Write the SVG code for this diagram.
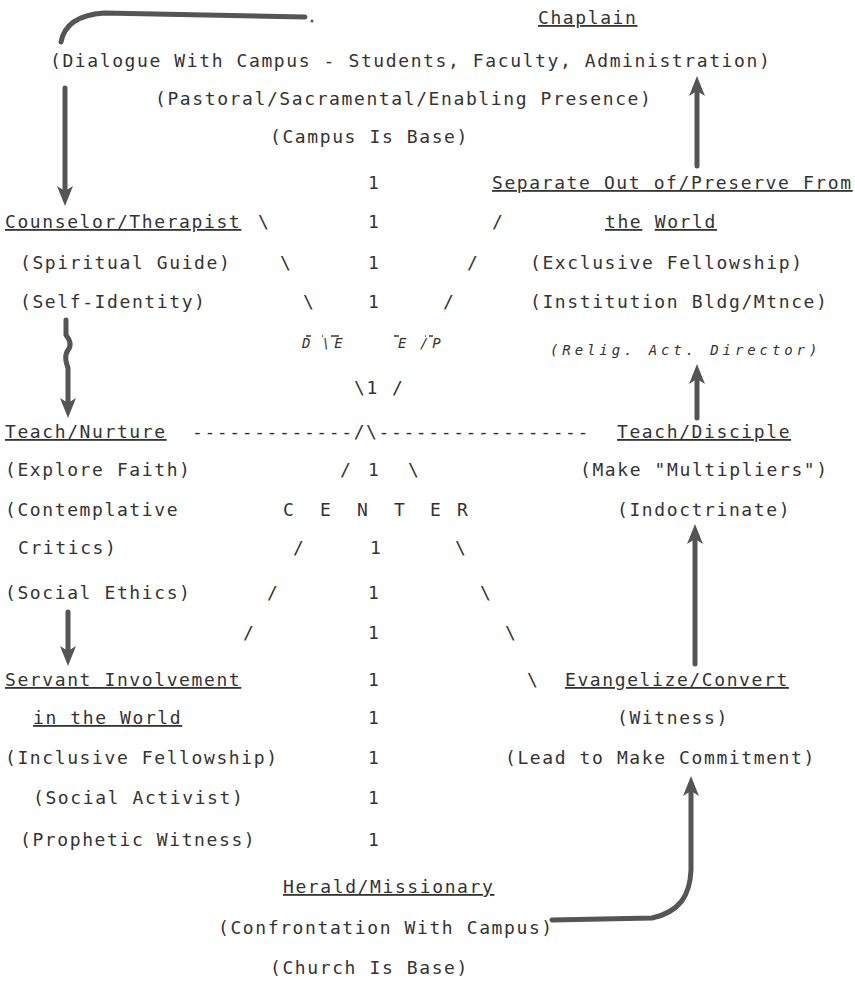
<svg xmlns="http://www.w3.org/2000/svg" width="855" height="982" viewBox="0 0 855 982">
<style>
.t{font-family:"DejaVu Sans Mono","Liberation Mono",monospace;font-size:18px;letter-spacing:1.6px;fill:#333}
.u{text-decoration:underline}
.i{font-style:italic;font-size:14px;letter-spacing:3.9px}
.c{stroke:#555;stroke-width:5;fill:none;stroke-linecap:round;stroke-linejoin:round}
.m{stroke:#444;stroke-width:1.6}
</style>
<defs>
<marker id="ah" markerUnits="userSpaceOnUse" markerWidth="20" markerHeight="22" viewBox="0 0 20 22" refX="10" refY="11" orient="auto">
<path d="M0,3 L20,11 L0,19 L5,11 Z" fill="#555"/>
</marker>
</defs>
<rect width="855" height="982" fill="#fff"/>

<g id="chaplain" class="t">
<text x="538" y="24" class="u">Chaplain</text>
<text x="50" y="67">(Dialogue With Campus - Students, Faculty, Administration)</text>
<text x="155" y="105">(Pastoral/Sacramental/Enabling Presence)</text>
<text x="270" y="143">(Campus Is Base)</text>
</g>

<g id="counselor" class="t">
<text x="5" y="228" class="u">Counselor/Therapist</text>
<text x="20" y="269">(Spiritual Guide)</text>
<text x="20" y="308">(Self-Identity)</text>
</g>

<g id="separate" class="t">
<text x="492" y="189" class="u">Separate Out of/Preserve From</text>
<text x="605" y="228"><tspan class="u">the</tspan>  <tspan class="u">World</tspan></text>
<text x="530" y="269">(Exclusive Fellowship)</text>
<text x="530" y="308">(Institution Bldg/Mtnce)</text>
<text x="550" y="355" class="i">(Relig. Act. Director)</text>
</g>

<g id="teach-nurture" class="t">
<text x="5" y="438" class="u">Teach/Nurture</text>
<text x="5" y="476">(Explore Faith)</text>
<text x="5" y="516">(Contemplative</text>
<text x="18" y="554">Critics)</text>
<text x="5" y="599">(Social Ethics)</text>
</g>

<g id="teach-disciple" class="t">
<text x="617" y="438" class="u">Teach/Disciple</text>
<text x="580" y="476">(Make "Multipliers")</text>
<text x="617" y="516">(Indoctrinate)</text>
</g>

<g id="servant" class="t">
<text x="5" y="686" class="u">Servant Involvement</text>
<text x="33" y="724" class="u">in the World</text>
<text x="5" y="764">(Inclusive Fellowship)</text>
<text x="33" y="804">(Social Activist)</text>
<text x="20" y="846">(Prophetic Witness)</text>
</g>

<g id="evangelize" class="t">
<text x="565" y="686" class="u">Evangelize/Convert</text>
<text x="617" y="724">(Witness)</text>
<text x="505" y="764">(Lead to Make Commitment)</text>
</g>

<g id="herald" class="t">
<text x="283" y="893" class="u">Herald/Missionary</text>
<text x="218" y="934">(Confrontation With Campus)</text>
<text x="270" y="974">(Church Is Base)</text>
</g>

<g id="center" class="t">
<text x="283" y="516">C</text>
<text x="320" y="516">E</text>
<text x="357" y="516">N</text>
<text x="394" y="516">T</text>
<text x="430" y="516">E</text>
<text x="457" y="516">R</text>
<text x="302" y="348" class="i">D</text>
<text x="322" y="348" class="i">\E</text>
<text x="398" y="348" class="i">E</text>
<text x="420" y="348" class="i">/P</text>
<line class="m" x1="306" y1="336" x2="311" y2="336"/>
<line class="m" x1="322" y1="336" x2="323" y2="336"/>
<line class="m" x1="331" y1="336" x2="339" y2="336"/>
<line class="m" x1="394" y1="336" x2="399" y2="336"/>
<line class="m" x1="425" y1="336" x2="426" y2="336"/>
<line class="m" x1="429" y1="336" x2="433" y2="336"/>
</g>

<g id="spokes" class="t">
<text x="368" y="189">1</text>
<text x="258" y="228">\</text><text x="368" y="228">1</text><text x="492" y="228">/</text>
<text x="280" y="269">\</text><text x="368" y="269">1</text><text x="467" y="269">/</text>
<text x="303" y="308">\</text><text x="368" y="308">1</text><text x="443" y="308">/</text>
<text x="354" y="394">\1</text><text x="392" y="394">/</text>
<text x="192" y="438">-------------/\-----------------</text>
<text x="340" y="476">/</text><text x="368" y="476">1</text><text x="408" y="476">\</text>
<text x="293" y="554">/</text><text x="370" y="554">1</text><text x="455" y="554">\</text>
<text x="267" y="599">/</text><text x="368" y="599">1</text><text x="480" y="599">\</text>
<text x="243" y="639">/</text><text x="368" y="639">1</text><text x="505" y="639">\</text>
<text x="368" y="686">1</text><text x="527" y="686">\</text>
<text x="368" y="724">1</text>
<text x="368" y="764">1</text>
<text x="368" y="804">1</text>
<text x="368" y="846">1</text>
</g>

<g id="connectors">
<path class="c" d="M61,42 C64,26 76,15 104,13 L305,17"/>
<circle cx="312" cy="21" r="1.5" fill="#555"/>
<path class="c" d="M65,88 L65,196" marker-end="url(#ah)"/>
<path class="c" d="M66,320 L66,335 C70,340 72,345 68,350 C64,356 66,362 68,368 L68,408" marker-end="url(#ah)"/>
<path class="c" d="M68,612 L68,656" marker-end="url(#ah)"/>
<path class="c" d="M697,166 L697,86" marker-end="url(#ah)"/>
<path class="c" d="M697,418 L697,374" marker-end="url(#ah)"/>
<path class="c" d="M695,664 L695,534" marker-end="url(#ah)"/>
<path class="c" d="M552,920 L652,918 C680,912 690,895 691,870 L691,786" marker-end="url(#ah)"/>
</g>
</svg>
